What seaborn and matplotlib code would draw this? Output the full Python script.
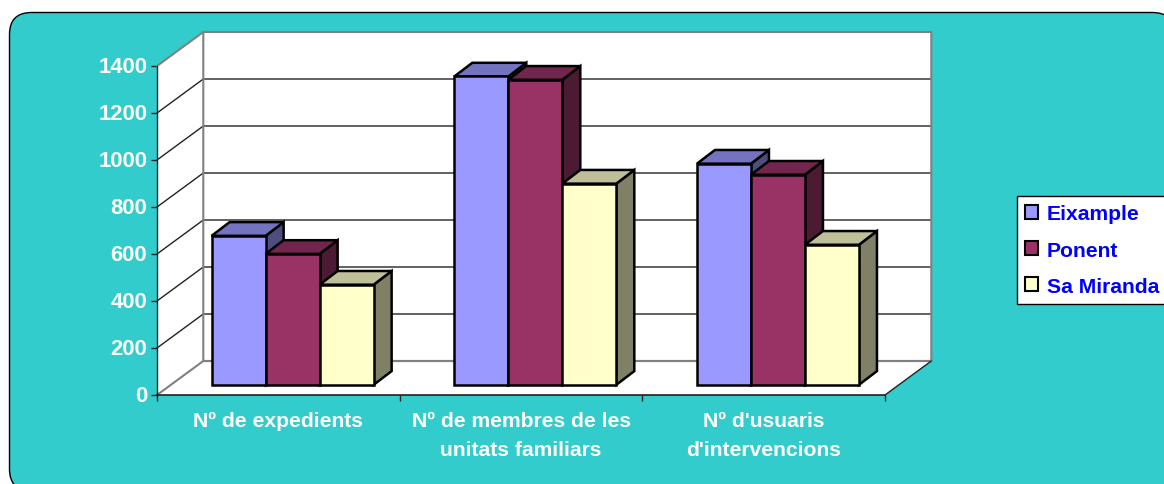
import numpy as np
import pandas as pd
import matplotlib
matplotlib.use('Agg')
import matplotlib.pyplot as plt
from matplotlib.colors import to_rgb
from matplotlib.patches import FancyBboxPatch, Polygon, Rectangle
from matplotlib.transforms import IdentityTransform, ScaledTranslation
import seaborn as sns

# Data
categories = ['Nº de expedients', 'Nº de membres de les\nunitats familiars',
              "Nº d'usuaris\nd'intervencions"]
eixample = [634, 1312, 941]
ponent = [557, 1298, 894]
sa_miranda = [426, 856, 596]
series_names = ['Eixample', 'Ponent', 'Sa Miranda']
y_ticks = [0, 200, 400, 600, 800, 1000, 1200, 1400]
colors = ['#9999FF', '#993366', '#FFFFCC']

df = pd.DataFrame({
    'categoria': categories * 3,
    'serie': np.repeat(series_names, 3),
    'valor': eixample + ponent + sa_miranda,
})

# Layout, in pixels of the 1164x485 picture
W, H = 1164, 485
FRONT_L, FRONT_R, FRONT_T, FRONT_B = 157, 885, 67, 396
CAT_PX = (FRONT_R - FRONT_L) / 3
VAL_PX = (FRONT_B - FRONT_T) / 1400
WALL_DX, WALL_DY = 46.3 / CAT_PX, 34 / VAL_PX      # depth of the chart box
BAR_SHIFT_X, BAR_SHIFT_Y = 14.3, 10.2               # bars sit inside the box
BAR_DX, BAR_DY = 18 / CAT_PX, 13.7 / VAL_PX         # depth of a bar

sns.set_theme(style='white')
plt.rcParams['font.family'] = ['Liberation Sans', 'DejaVu Sans']
plt.rcParams['font.weight'] = 'bold'


def axes_rect(left, right, top, bottom):
    return [left / W, 1 - bottom / H, (right - left) / W, (bottom - top) / H]


fig = plt.figure(figsize=(W / 100, H / 100), dpi=100, facecolor='white')

# Teal rounded panel, runs off the bottom and right of the picture
panel = FancyBboxPatch((9.5, H - 492), 1165, 478.5, boxstyle='round,pad=0,rounding_size=22',
                       facecolor='#33CCCC', edgecolor='black', linewidth=1,
                       transform=IdentityTransform(), zorder=-5)
fig.add_artist(panel)

# Front plane of the box: this one carries the axis
frame = fig.add_axes(axes_rect(FRONT_L, FRONT_R, FRONT_T, FRONT_B), facecolor='none')
frame.set_xlim(-0.5, 2.5)
frame.set_ylim(0, 1400)
for side in ['top', 'right', 'left']:
    frame.spines[side].set_visible(False)
frame.spines['bottom'].set_linewidth(1.2)
frame.spines['bottom'].set_color('#222222')
frame.spines['bottom'].set_zorder(6)

GREY = '#808080'
x0, x1 = -0.5, 2.5
frame.add_patch(Polygon([(x0, 0), (x0 + WALL_DX, WALL_DY), (x0 + WALL_DX, 1400 + WALL_DY), (x0, 1400)],
                        facecolor='white', edgecolor='none', clip_on=False, zorder=1))
frame.add_patch(Rectangle((x0 + WALL_DX, WALL_DY), 3, 1400,
                          facecolor='white', edgecolor='none', clip_on=False, zorder=1))
frame.add_patch(Polygon([(x0, 0), (x1, 0), (x1 + WALL_DX, WALL_DY), (x0 + WALL_DX, WALL_DY)],
                        facecolor='white', edgecolor='none', clip_on=False, zorder=1))

# Gridlines on the back and side wall
for v in y_ticks[1:-1]:
    frame.plot([x0, x0 + WALL_DX, x1 + WALL_DX], [v, v + WALL_DY, v + WALL_DY],
               color='#222222', lw=1, clip_on=False, zorder=2)

# Box edges
frame.plot([x0, x0 + WALL_DX, x1 + WALL_DX, x1 + WALL_DX, x0 + WALL_DX, x0 + WALL_DX],
           [1400, 1400 + WALL_DY, 1400 + WALL_DY, WALL_DY, WALL_DY, 1400 + WALL_DY],
           color=GREY, lw=1.5, clip_on=False, zorder=3)
frame.plot([x0, x0 + WALL_DX, x1 + WALL_DX], [0, WALL_DY, WALL_DY],
           color=GREY, lw=1.5, clip_on=False, zorder=3)
frame.plot([x0, x0], [0, 1400], color='#222222', lw=1, clip_on=False, zorder=3)
frame.plot([x1, x1 + WALL_DX], [0, WALL_DY], color='#222222', lw=1, clip_on=False, zorder=3)

# Ticks
frame.set_yticks(y_ticks)
frame.set_yticklabels([str(v) for v in y_ticks], color='white', fontsize=15.8, fontweight='bold')
frame.tick_params(axis='y', left=True, length=4.5, width=1, color='#222222', pad=2.5)
lift = ScaledTranslation(0, 2 / 100, fig.dpi_scale_trans)
for label in frame.get_yticklabels():
    label.set_transform(label.get_transform() + lift)
frame.set_xticks([-0.5, 0.5, 1.5, 2.5])
frame.set_xticklabels([])
frame.tick_params(axis='x', which='major', bottom=True, length=4.5, width=1, color='#222222')
frame.set_xticks([0, 1, 2], minor=True)
frame.set_xticklabels(categories, minor=True, color='white', fontsize=15.2, fontweight='bold', linespacing=1.65)
frame.tick_params(axis='x', which='minor', bottom=False, length=0, pad=11.7)
frame.grid(False)

# Bars, on their own plane a little inside the box
ax = fig.add_axes(axes_rect(FRONT_L + BAR_SHIFT_X, FRONT_R + BAR_SHIFT_X,
                            FRONT_T - BAR_SHIFT_Y, FRONT_B - BAR_SHIFT_Y), facecolor='none')
sns.barplot(data=df, x='categoria', y='valor', hue='serie', hue_order=series_names,
            order=categories, palette=colors, width=0.6676, gap=0, saturation=1,
            edgecolor='black', linewidth=1.8, ax=ax)
ax.set_xlim(-0.5, 2.5)
ax.set_ylim(0, 1400)
ax.axis('off')

handles, labels = ax.get_legend_handles_labels()
ax.get_legend().remove()

# Extrude every bar: side and top go behind its own front, left to right
bars = sorted([p for p in ax.patches if p.get_height() > 0], key=lambda p: p.get_x())
for i, bar in enumerate(bars):
    x, w, h = bar.get_x(), bar.get_width(), bar.get_height()
    rgb = np.array(to_rgb(bar.get_facecolor()))
    z = 10 + i * 3
    side = Polygon([(x + w, 0), (x + w + BAR_DX, BAR_DY), (x + w + BAR_DX, h + BAR_DY), (x + w, h)],
                   facecolor=rgb * 0.5, edgecolor='black', linewidth=1.8, clip_on=False, zorder=z)
    top = Polygon([(x, h), (x + BAR_DX, h + BAR_DY), (x + w + BAR_DX, h + BAR_DY), (x + w, h)],
                  facecolor=rgb * 0.75, edgecolor='black', linewidth=1.8, clip_on=False, zorder=z + 1)
    ax.add_patch(side)
    ax.add_patch(top)
    bar.set_zorder(z + 2)
    bar.set_clip_on(False)

# Legend, also cut by the right edge
leg = fig.legend(handles, labels, loc='upper left', bbox_to_anchor=(1017 / W, 1 - 197 / H),
                 borderaxespad=0, frameon=True, fancybox=False, framealpha=1,
                 facecolor='white', edgecolor='black', handlelength=0.61, handleheight=0.61,
                 handletextpad=0.4, labelspacing=0.81, borderpad=0.4, labelcolor='#0000FF',
                 prop={'weight': 'bold', 'size': 15.2})
leg.get_frame().set_linewidth(1)
for handle in leg.legend_handles:
    handle.set_edgecolor('black')
    handle.set_linewidth(1.5)

fig.savefig('out.png', dpi=100)
